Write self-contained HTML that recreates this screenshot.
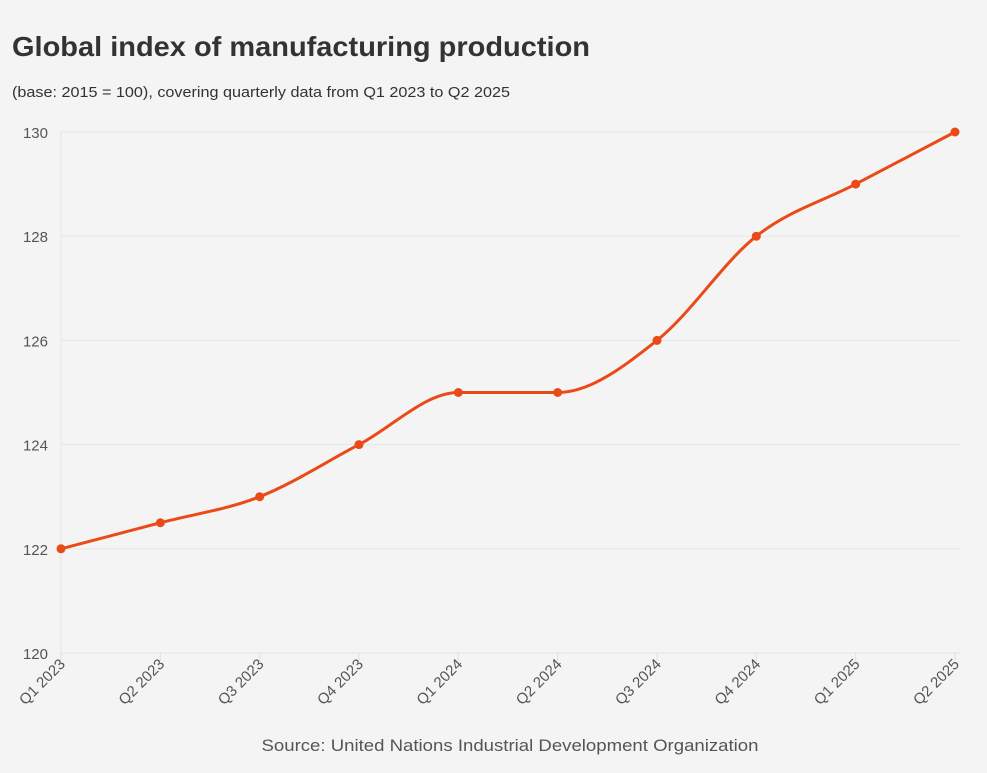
<!DOCTYPE html>
<html><head><meta charset="utf-8"><style>
html,body{margin:0;padding:0;background:#f4f4f4;}
body{width:987px;height:768px;overflow:hidden;font-family:"Liberation Sans",sans-serif;}
svg text{font-family:"Liberation Sans",sans-serif;}
</style></head><body>
<svg id="chart" width="987" height="768" xmlns="http://www.w3.org/2000/svg">
<rect width="987" height="768" fill="#f4f4f4"/>
<text x="12" y="56" font-size="28" font-weight="bold" fill="#333" textLength="578" lengthAdjust="spacingAndGlyphs">Global index of manufacturing production</text>
<text x="12" y="97" font-size="15" fill="#333" textLength="498" lengthAdjust="spacingAndGlyphs">(base: 2015 = 100), covering quarterly data from Q1 2023 to Q2 2025</text>
<text x="510" y="751" font-size="17" fill="#555" text-anchor="middle" textLength="497" lengthAdjust="spacingAndGlyphs">Source: United Nations Industrial Development Organization</text>
<g id="grid"></g><g id="xaxis"></g><g id="yaxis"></g><g id="series"></g>
</svg>
<script>
const categories=["Q1 2023","Q2 2023","Q3 2023","Q4 2023","Q1 2024","Q2 2024","Q3 2024","Q4 2024","Q1 2025","Q2 2025"];
const values=[122,122.5,123,124,125,125,126,128,129,130];
const yTicks=[120,122,124,126,128,130];
const NS="http://www.w3.org/2000/svg";
const x0=61,x1=955,yTop=132,yBot=653,yMin=120,yMax=130;
const xs=i=>x0+(x1-x0)*i/(categories.length-1);
const ys=v=>yBot-(v-yMin)/(yMax-yMin)*(yBot-yTop);
function mk(tag,attrs,parent){const e=document.createElementNS(NS,tag);for(const k in attrs)e.setAttribute(k,attrs[k]);parent.appendChild(e);return e;}
const grid=document.getElementById('grid'),xa=document.getElementById('xaxis'),ya=document.getElementById('yaxis'),ser=document.getElementById('series');
yTicks.forEach(t=>{
 const l=mk('line',{x1:x0,x2:960,y1:ys(t),y2:ys(t),stroke:'#e6e6e6','stroke-width':1},grid);
 
 
 const tx=mk('text',{x:48,y:ys(t)+6,'font-size':15,fill:'#555','text-anchor':'end'},ya);
 tx.textContent=t;
 
 
});
const vl=mk('line',{x1:x0,x2:x0,y1:yTop,y2:yBot+6,stroke:'#e6e6e6'},grid);


categories.forEach((c,i)=>{
 const x=xs(i);
 const tk=mk('line',{x1:x,x2:x,y1:yBot,y2:yBot+8,stroke:'#e0e0e0'},xa);
 
 
 const t=mk('text',{x:0,y:0,'font-size':15,fill:'#555','text-anchor':'end',transform:`translate(${x+5},${yBot+12}) rotate(-45)`},xa);
 t.textContent=c;
 
 
});
// monotone cubic interpolation
const px=categories.map((c,i)=>xs(i)),py=values.map(ys);
const n=px.length,d=[],m=new Array(n);
for(let i=0;i<n-1;i++)d.push((py[i+1]-py[i])/(px[i+1]-px[i]));
for(let i=1;i<n-1;i++){m[i]=(d[i-1]*d[i]<=0)?0:(function(){const h0=px[i]-px[i-1],h1=px[i+1]-px[i];const p=(d[i-1]*h1+d[i]*h0)/(h0+h1);return (Math.sign(d[i-1])+Math.sign(d[i]))*Math.min(Math.abs(d[i-1]),Math.abs(d[i]),0.5*Math.abs(p));})();}
m[0]=(3*d[0]-m[1])/2;m[n-1]=(3*d[n-2]-m[n-2])/2;
let path=`M${px[0]},${py[0]}`;
for(let i=0;i<n-1;i++){const h=(px[i+1]-px[i])/3;path+=`C${px[i]+h},${py[i]+m[i]*h} ${px[i+1]-h},${py[i+1]-m[i+1]*h} ${px[i+1]},${py[i+1]}`;}
const ln=mk('path',{d:path,fill:'none',stroke:'#ea4a17','stroke-width':3},ser);


values.forEach((v,i)=>{
 const c=mk('circle',{cx:px[i],cy:py[i],r:4.5,fill:'#ea4a17'},ser);
 
 
});
</script>
</body></html>
